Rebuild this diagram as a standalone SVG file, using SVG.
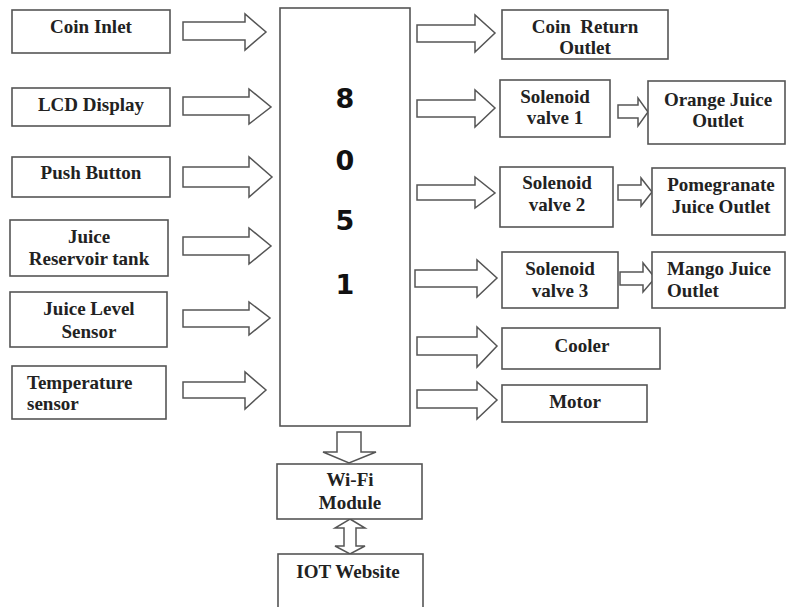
<svg xmlns="http://www.w3.org/2000/svg" width="788" height="607" viewBox="0 0 788 607">
<style>
.box{fill:#fff;stroke:#555;stroke-width:1.6}
.arr{fill:#fff;stroke:#555;stroke-width:1.5;stroke-linejoin:miter}
.t{font-family:"Liberation Serif","Times New Roman",serif;font-weight:bold;font-size:19px;fill:#222;text-anchor:middle}
.tl{text-anchor:start}
.d{font-family:"DejaVu Sans","Liberation Sans",sans-serif;font-weight:bold;font-size:27px;fill:#111;text-anchor:middle}
</style>
<rect width="788" height="607" fill="#fff"/>
<g id="connectors">
<polygon class="arr" points="183,22 245,22 245,14 266,32 245,50 245,40 183,40"/>
<polygon class="arr" points="183,97 249,97 249,89 271,107 249,124 249,115 183,115"/>
<polygon class="arr" points="183,167 249,167 249,157 272,177 249,197 249,187 183,187"/>
<polygon class="arr" points="183,237 249,237 249,228 271,246 249,264 249,255 183,255"/>
<polygon class="arr" points="183,310 249,310 249,302 270,318 249,335 249,327 183,327"/>
<polygon class="arr" points="183,382 245,382 245,372 266,390 245,409 245,398 183,398"/>
<polygon class="arr" points="417,25 475,25 475,15 495,33 475,52 475,42 417,42"/>
<polygon class="arr" points="417,100 475,100 475,90 495,108 475,127 475,117 417,117"/>
<polygon class="arr" points="417,185 475,185 475,177 495,193 475,208 475,200 417,200"/>
<polygon class="arr" points="415,270 477,270 477,260 497,278 477,297 477,287 415,287"/>
<polygon class="arr" points="417,337 477,337 477,327 497,346 477,367 477,355 417,355"/>
<polygon class="arr" points="417,390 477,390 477,382 497,400 477,419 477,408 417,408"/>
<polygon class="arr" points="618,105 638,105 638,98 648,112 638,126 638,118 618,118"/>
<polygon class="arr" points="618,185 641,185 641,178 652,192 641,206 641,200 618,200"/>
<polygon class="arr" points="620,272 643,272 643,263 655,278 643,292 643,285 620,285"/>
<polygon class="arr" points="337,432 361,432 361,452 376,452 349,463 323,452 337,452"/>
<polygon class="arr" points="350,519 365,528 356,528 356,546 365,546 350,554 335,546 344,546 344,528 335,528"/>
</g>
<g id="coin-inlet"><rect class="box" x="12" y="10" width="158" height="43"/><text class="t" x="91" y="33">Coin Inlet</text></g>
<g id="lcd-display"><rect class="box" x="12" y="88" width="158" height="38"/><text class="t" x="91" y="111">LCD Display</text></g>
<g id="push-button"><rect class="box" x="12" y="157" width="158" height="40"/><text class="t" x="91" y="179">Push Button</text></g>
<g id="juice-reservoir"><rect class="box" x="10" y="220" width="158" height="56"/><text class="t" x="89" y="243">Juice</text><text class="t" x="89" y="265">Reservoir tank</text></g>
<g id="juice-level"><rect class="box" x="10" y="292" width="157" height="55"/><text class="t" x="89" y="315">Juice Level</text><text class="t" x="89" y="338">Sensor</text></g>
<g id="temperature"><rect class="box" x="12" y="366" width="154" height="53"/><text class="t tl" x="27" y="389">Temperature</text><text class="t tl" x="27" y="410">sensor</text></g>
<g id="mcu"><rect class="box" x="280" y="8" width="130" height="418"/><text class="d" x="345" y="108">8</text><text class="d" x="345" y="170">0</text><text class="d" x="345" y="230">5</text><text class="d" x="345" y="294">1</text></g>
<g id="coin-return"><rect class="box" x="502" y="10" width="166" height="49"/><text class="t" x="585" y="33" xml:space="preserve">Coin  Return</text><text class="t" x="585" y="54">Outlet</text></g>
<g id="solenoid-1"><rect class="box" x="500" y="80" width="110" height="57"/><text class="t" x="555" y="103">Solenoid</text><text class="t" x="555" y="124">valve 1</text></g>
<g id="orange-outlet"><rect class="box" x="648" y="81" width="137" height="63"/><text class="t" x="718" y="106">Orange Juice</text><text class="t" x="718" y="127">Outlet</text></g>
<g id="solenoid-2"><rect class="box" x="500" y="167" width="113" height="60"/><text class="t" x="557" y="189">Solenoid</text><text class="t" x="557" y="211">valve 2</text></g>
<g id="pomegranate-outlet"><rect class="box" x="652" y="168" width="133" height="67"/><text class="t" x="721" y="191">Pomegranate</text><text class="t" x="721" y="213">Juice Outlet</text></g>
<g id="solenoid-3"><rect class="box" x="502" y="252" width="116" height="56"/><text class="t" x="560" y="275">Solenoid</text><text class="t" x="560" y="297">valve 3</text></g>
<g id="mango-outlet"><rect class="box" x="652" y="252" width="133" height="56"/><text class="t tl" x="667" y="275">Mango Juice</text><text class="t tl" x="667" y="297">Outlet</text></g>
<g id="cooler"><rect class="box" x="502" y="328" width="158" height="41"/><text class="t" x="582" y="352">Cooler</text></g>
<g id="motor"><rect class="box" x="502" y="385" width="145" height="37"/><text class="t" x="575" y="408">Motor</text></g>
<g id="wifi"><rect class="box" x="277" y="464" width="145" height="55"/><text class="t" x="350" y="486">Wi-Fi</text><text class="t" x="350" y="509">Module</text></g>
<g id="iot"><rect class="box" x="278" y="554" width="145" height="60"/><text class="t" x="348" y="578">IOT Website</text></g>
</svg>
